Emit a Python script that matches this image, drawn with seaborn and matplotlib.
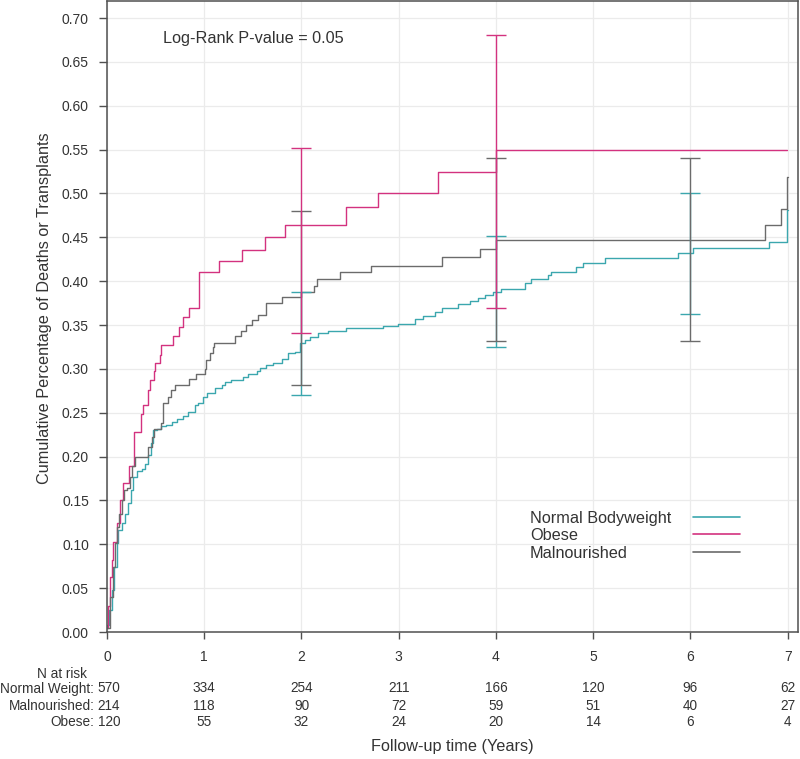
import pandas as pd
import seaborn as sns
import matplotlib
matplotlib.use("Agg")
import matplotlib.pyplot as plt
from matplotlib import transforms
from matplotlib.lines import Line2D

# groups, in legend order
groups = ["Normal Bodyweight", "Obese", "Malnourished"]
colors = ["#3ba7ae", "#d3327f", "#6b6b6b"]

# cumulative incidence step points (time in years, value)
normal_steps = [
    (0, 0.005), (0.003, 0.008), (0.024, 0.025), (0.048, 0.048), (0.072, 0.0745),
    (0.10, 0.101), (0.116, 0.116), (0.151, 0.124), (0.185, 0.135), (0.219, 0.147),
    (0.243, 0.162), (0.27, 0.177), (0.305, 0.183), (0.357, 0.1855), (0.39, 0.192),
    (0.425, 0.202), (0.449, 0.215), (0.476, 0.230), (0.517, 0.232), (0.56, 0.235),
    (0.61, 0.236), (0.665, 0.239), (0.716, 0.2425), (0.785, 0.2463), (0.836, 0.251),
    (0.904, 0.259), (0.94, 0.2615), (0.99, 0.268), (1.025, 0.272), (1.11, 0.278),
    (1.18, 0.2816), (1.21, 0.2854), (1.28, 0.287), (1.40, 0.291), (1.45, 0.294),
    (1.54, 0.297), (1.57, 0.3007), (1.64, 0.3045), (1.71, 0.307), (1.80, 0.311),
    (1.86, 0.318), (1.93, 0.3196), (1.98, 0.329), (2.035, 0.333), (2.09, 0.3367),
    (2.17, 0.3406), (2.27, 0.3436), (2.46, 0.3463), (2.84, 0.349), (2.995, 0.351),
    (3.165, 0.3565), (3.25, 0.3607), (3.37, 0.3645), (3.44, 0.3698), (3.61, 0.374),
    (3.73, 0.3778), (3.82, 0.3805), (3.885, 0.3843), (3.97, 0.388), (4.056, 0.391),
    (4.30, 0.3976), (4.36, 0.4025), (4.54, 0.407), (4.57, 0.411), (4.82, 0.4166),
    (4.90, 0.4204), (5.12, 0.426), (5.87, 0.4318), (6.03, 0.4375), (6.81, 0.445),
    (6.995, 0.481), (7.0, 0.481),
]
obese_steps = [
    (0, 0.005), (0.01, 0.03), (0.031, 0.063), (0.048, 0.082), (0.065, 0.103),
    (0.10, 0.124), (0.134, 0.150), (0.165, 0.170), (0.23, 0.189), (0.28, 0.228),
    (0.346, 0.249), (0.374, 0.259), (0.425, 0.276), (0.44, 0.287), (0.48, 0.297),
    (0.49, 0.307), (0.54, 0.316), (0.56, 0.327), (0.68, 0.337), (0.74, 0.348),
    (0.78, 0.359), (0.84, 0.369), (0.945, 0.411), (1.155, 0.423), (1.39, 0.436),
    (1.62, 0.450), (1.83, 0.464), (2.46, 0.484), (2.79, 0.501), (3.405, 0.525),
    (4.0, 0.55), (6.99, 0.55),
]
malnourished_steps = [
    (0, 0.005), (0.031, 0.040), (0.058, 0.0745), (0.082, 0.101), (0.10, 0.12),
    (0.127, 0.135), (0.151, 0.1505), (0.175, 0.162), (0.202, 0.164), (0.236, 0.177),
    (0.26, 0.189), (0.288, 0.200), (0.425, 0.211), (0.46, 0.2227), (0.483, 0.231),
    (0.56, 0.238), (0.58, 0.261), (0.63, 0.268), (0.655, 0.276), (0.70, 0.2816),
    (0.84, 0.289), (0.92, 0.294), (1.007, 0.30), (1.02, 0.31), (1.06, 0.318),
    (1.09, 0.325), (1.10, 0.330), (1.315, 0.3375), (1.374, 0.3436), (1.43, 0.350),
    (1.49, 0.356), (1.55, 0.3615), (1.64, 0.375), (1.80, 0.3816), (2.0, 0.388),
    (2.13, 0.395), (2.16, 0.402), (2.40, 0.410), (2.72, 0.417), (3.45, 0.427),
    (3.84, 0.437), (4.0, 0.4466), (6.77, 0.4637), (6.93, 0.482), (6.995, 0.519),
    (7.0, 0.519),
]

# confidence intervals at 2, 4, 6 years (low, high)
ci_years = [2, 4, 6]
normal_ci = [(0.270, 0.388), (0.325, 0.451), (0.362, 0.500)]
obese_ci = [(0.341, 0.552), (0.369, 0.681), None]
malnourished_ci = [(0.282, 0.480), (0.332, 0.540), (0.332, 0.540)]

# numbers at risk
risk_years = [0, 1, 2, 3, 4, 5, 6, 7]
risk_rows = ["Normal Weight:", "Malnourished:", "Obese:"]
risk_normal = [570, 334, 254, 211, 166, 120, 96, 62]
risk_malnourished = [214, 118, 90, 72, 59, 51, 40, 27]
risk_obese = [120, 55, 32, 24, 20, 14, 6, 4]

steps = {"Normal Bodyweight": normal_steps, "Obese": obese_steps,
         "Malnourished": malnourished_steps}
frames = []
for g in groups:
    d = pd.DataFrame(steps[g], columns=["time", "cuminc"])
    d["group"] = g
    frames.append(d)
df = pd.concat(frames, ignore_index=True)

sns.set_theme(style="whitegrid", rc={"grid.color": "#ebebeb", "grid.linewidth": 0.9,
                                     "axes.edgecolor": "#505050", "axes.linewidth": 1.1})
plt.rcParams["font.family"] = ["Liberation Sans", "DejaVu Sans"]
txt = "#333333"

fig = plt.figure(figsize=(8, 7.59), dpi=100)
ax = fig.add_axes([107 / 800, 127 / 759, 691 / 800, 631 / 759])

sns.lineplot(data=df, x="time", y="cuminc", hue="group", hue_order=groups,
             palette=colors, drawstyle="steps-post", estimator=None, sort=False,
             linewidth=1.0, ax=ax, legend=False)

# error bars, drawn teal, grey, then magenta on top
for g, col, cis in [("Normal Bodyweight", colors[0], normal_ci),
                    ("Malnourished", colors[2], malnourished_ci),
                    ("Obese", colors[1], obese_ci)]:
    for yr, ci in zip(ci_years, cis):
        if ci is None:
            continue
        lo, hi = ci
        mid = (lo + hi) / 2
        ax.errorbar([yr], [mid], yerr=[[mid - lo], [hi - mid]], fmt="none",
                    ecolor=col, elinewidth=1.0, capsize=7.5, capthick=1.0, zorder=3)

ax.set_xlim(0, 7.106)
ax.set_ylim(0, 0.7194)
ax.set_xticks(range(8))
ax.set_yticks([i * 0.05 for i in range(15)])
ax.set_yticklabels([f"{i * 0.05:.2f}" for i in range(15)])
ax.tick_params(axis="both", which="major", direction="out", color="#505050",
               labelcolor=txt, labelsize=10)
ax.tick_params(axis="y", length=6, width=1, pad=7, left=True)
ax.tick_params(axis="x", length=5, width=1, pad=8, bottom=True)
for s in ax.spines.values():
    s.set_visible(True)
    s.set_color("#505050")

ax.set_xlabel("Follow-up time (Years)", fontsize=11.7, color=txt)
ax.set_ylabel("Cumulative Percentage of Deaths or Transplants", fontsize=11.7, color=txt)
ax.xaxis.set_label_coords(0.5, -0.170)
ax.yaxis.set_label_coords(-0.08, 0.513)

ax.text(0.576, 0.677, "Log-Rank P-value = 0.05", ha="left", va="center",
        fontsize=11.7, color=txt)

# legend: labels left-aligned, line keys on the right
leg_y = [516.5, 534, 551.5]
for g, col, py in zip(groups, colors, leg_y):
    fy = 1 - py / 759
    fig.text(530 / 800, fy, g, ha="left", va="center_baseline", fontsize=11.7, color=txt)
    fig.add_artist(Line2D([692.5 / 800, 739.5 / 800], [fy, fy], color=col, lw=1.2,
                          transform=fig.transFigure))

# numbers at risk table
trans = transforms.blended_transform_factory(ax.transData, fig.transFigure)
ax.text(-0.46, 1 - 672 / 759, "N at risk", transform=trans, ha="center",
        va="center_baseline", fontsize=9.8, color=txt, clip_on=False)
row_y = [1 - 687 / 759, 1 - 704 / 759, 1 - 720 / 759]
for name, vals, yy in zip(risk_rows, [risk_normal, risk_malnourished, risk_obese], row_y):
    ax.text(-0.13, yy, name, transform=trans, ha="right", va="center_baseline",
            fontsize=9.8, color=txt, clip_on=False)
    for yr, v in zip(risk_years, vals):
        xx = yr + 0.018 if yr == 0 else yr
        ax.text(xx, yy, str(v), transform=trans, ha="center", va="center_baseline",
                fontsize=9.8, color=txt, clip_on=False)

fig.savefig("out.png", dpi=100)
